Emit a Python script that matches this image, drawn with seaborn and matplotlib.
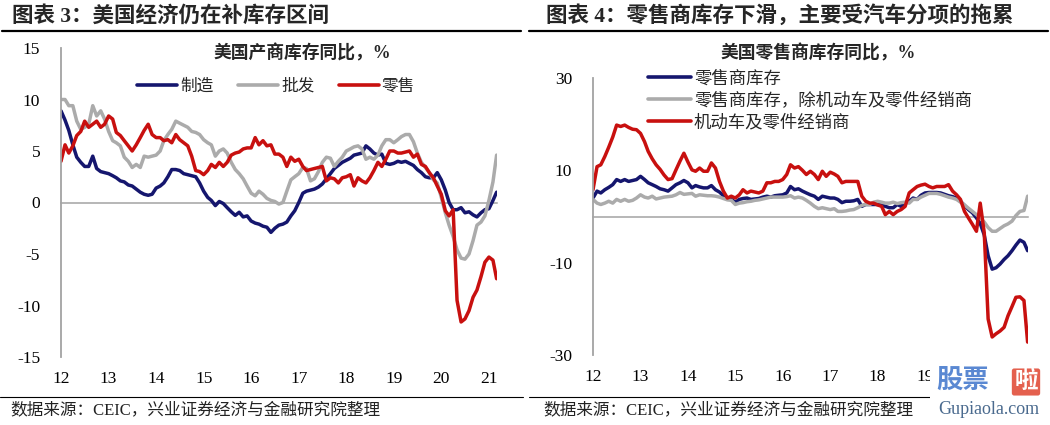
import numpy as np
import pandas as pd
import matplotlib
matplotlib.use("Agg")
import matplotlib.pyplot as plt
from matplotlib.lines import Line2D
from matplotlib.patches import Rectangle
import seaborn as sns

# ---------------- data ----------------
start_month = "2012-01-01"
year_labels = ["12", "13", "14", "15", "16", "17", "18", "19", "20", "21"]

# Left panel: US inventories YoY, %
mfg = [8.9, 8.0, 7.0, 5.6, 4.4, 3.9, 3.5, 3.5, 4.5, 3.3, 3.0, 2.9,
       2.8, 2.6, 2.4, 2.1, 2.0, 1.7, 1.6, 1.3, 1.0, 0.8, 0.7, 0.8,
       1.4, 1.6, 1.9, 2.5, 3.2, 3.2, 3.1, 2.8, 2.7, 2.6, 2.5, 1.9,
       1.1, 0.5, 0.2, -0.3, 0.1, -0.1, -0.5, -0.9, -1.25, -0.95, -1.4, -1.3,
       -1.8, -2.0, -2.1, -2.3, -2.4, -2.9, -2.5, -2.2, -2.1, -1.9, -1.3, -0.8,
       0.0, 0.9, 1.1, 1.2, 1.3, 1.5, 1.8, 2.3, 2.8, 3.3, 3.6, 3.9,
       4.1, 4.3, 4.6, 4.7, 4.8, 5.5, 5.2, 4.8, 4.6, 4.7, 3.8, 3.7,
       3.8, 4.0, 3.9, 4.0, 3.8, 3.6, 3.2, 2.9, 2.5, 2.4, 2.4, 2.9,
       2.2, 1.2, 0.0, -0.7, -0.7, -0.5, -1.0, -0.9, -1.2, -1.4, -1.0, -0.7,
       -0.6, 0.2, 1.0]
wholesale = [10.0, 10.0, 9.4, 9.4, 7.9, 7.1, 7.3, 7.6, 9.4, 8.4, 8.9, 8.1,
             6.9, 6.0, 5.8, 5.5, 4.4, 4.0, 3.4, 3.7, 3.4, 4.5, 4.4, 4.5,
             4.6, 5.0, 6.0, 6.6, 7.1, 7.9, 7.7, 7.5, 7.3, 6.9, 6.8, 6.6,
             6.1, 5.8, 5.6, 4.5, 5.0, 5.2, 4.8, 3.9, 3.2, 2.8, 2.3, 1.6,
             0.9, 0.65, 1.1, 0.8, 0.4, 0.2, 0.1, -0.15, 0.0, 1.1, 2.2, 2.5,
             2.8, 3.4, 3.3, 2.1, 2.3, 3.0, 3.9, 4.4, 4.3, 3.5, 4.0, 4.4,
             5.0, 5.2, 5.4, 5.5, 5.2, 4.2, 4.4, 4.2, 4.6, 5.5, 6.1, 6.1,
             5.8, 6.1, 6.4, 6.6, 6.6, 5.9, 4.8, 3.9, 3.4, 2.9, 2.2, 1.9,
             0.5, -1.0, -2.2, -3.3, -4.6, -5.4, -5.5, -5.0, -3.7, -2.2, -1.9, -1.3,
             0.2, 2.0, 4.6]
retail = [4.0, 5.6, 4.8, 5.5, 6.5, 6.9, 7.9, 7.3, 7.6, 7.9, 7.3, 7.6,
          8.4, 8.1, 6.8, 6.5, 6.0, 5.5, 5.0, 5.6, 6.3, 7.0, 7.6, 6.6,
          6.3, 6.3, 6.0, 6.1, 5.8, 6.6, 6.1, 5.8, 5.5, 4.5, 3.1, 3.0,
          2.7, 3.1, 3.7, 3.4, 3.9, 3.5, 3.9, 4.6, 4.8, 4.9, 5.2, 5.3,
          5.3, 6.3, 5.6, 6.0, 5.5, 5.6, 4.7, 4.7, 4.4, 3.5, 4.4, 4.0,
          4.2, 3.5, 3.1, 3.2, 3.3, 3.4, 3.5, 2.1, 2.4, 2.3, 1.9, 2.4,
          2.5, 2.7, 1.6, 2.4, 2.1, 1.9, 2.4, 3.1, 3.9, 3.5, 4.2, 5.0,
          5.0, 4.8, 4.8, 4.9, 5.0, 4.4, 4.7, 3.7, 3.5, 2.9, 2.4, 1.6,
          0.8, -0.8, -1.3, -0.7, -9.5, -11.6, -11.3, -10.5, -9.2, -8.5, -7.2, -5.8,
          -5.3, -5.6, -7.4]

# Right panel: US retail inventories YoY, %
retail_total = [4.0, 5.5, 5.1, 5.8, 6.3, 6.9, 8.0, 7.6, 8.0, 7.6, 7.8, 8.0,
                8.7, 8.0, 7.3, 6.9, 6.5, 6.0, 5.8, 5.5, 6.2, 6.9, 7.3, 7.8,
                7.3, 6.2, 6.7, 6.4, 6.2, 6.2, 6.7, 5.8, 5.3, 4.5, 4.0, 3.7,
                3.1, 3.7, 3.9, 4.0, 3.7, 3.8, 3.9, 4.2, 4.4, 4.2, 4.5, 4.6,
                4.7, 5.1, 6.5, 5.8, 6.0, 5.5, 5.1, 4.7, 4.4, 3.7, 4.4, 4.2,
                4.0, 4.0, 3.7, 3.0, 3.3, 3.3, 3.4, 3.7, 2.2, 2.6, 2.6, 2.6,
                2.6, 2.6, 2.2, 1.9, 1.9, 2.6, 2.2, 2.9, 3.3, 4.0, 3.7, 4.6,
                5.1, 5.2, 5.2, 5.2, 5.1, 4.8, 4.5, 4.3, 4.0, 3.3, 2.4, 1.5,
                0.8, -0.3, -1.5, -4.0, -8.5, -11.4, -11.1, -10.3, -9.3, -8.5, -7.4, -6.2,
                -5.1, -5.6, -7.4]
retail_ex_auto = [3.7, 2.9, 2.6, 2.9, 3.3, 2.9, 3.7, 3.3, 3.7, 3.3, 3.5, 4.0,
                  4.7, 4.2, 4.0, 4.4, 3.8, 4.0, 4.2, 4.3, 4.4, 4.7, 5.2, 4.8,
                  4.9, 5.0, 4.4, 4.7, 4.6, 4.5, 4.5, 4.4, 4.2, 3.9, 3.6, 3.5,
                  2.6, 2.9, 3.0, 3.2, 3.3, 3.5, 3.6, 3.8, 4.0, 4.2, 4.2, 4.2,
                  4.2, 4.3, 4.5, 4.0, 4.2, 4.0, 3.5, 2.9, 2.2, 1.7, 1.9, 1.7,
                  1.5, 1.7, 1.1, 1.1, 1.2, 1.4, 1.5, 1.9, 2.4, 2.6, 2.6, 3.1,
                  3.3, 3.1, 2.9, 2.9, 3.1, 2.8, 3.0, 3.1, 2.9, 3.7, 3.7, 4.2,
                  4.6, 5.0, 5.0, 5.0, 4.8, 4.5, 4.2, 4.0, 3.7, 3.1, 2.5, 1.8,
                  1.1, 0.4, -0.3, -1.2, -2.4, -3.2, -3.2, -2.6, -2.0, -1.6, -1.0, 0.2,
                  1.1, 1.3, 4.4]
auto_dealers = [5.8, 10.8, 11.2, 13.0, 15.0, 17.2, 19.8, 19.5, 19.8, 19.3, 18.9, 18.8,
                18.0, 16.2, 14.1, 12.5, 11.2, 10.2, 9.0, 8.0, 8.2, 10.1, 12.0, 13.7,
                11.8, 10.1, 9.8, 10.5, 9.8, 9.8, 11.6, 10.5, 7.6, 5.5, 4.0, 4.4,
                4.0, 4.7, 5.8, 5.1, 5.5, 5.3, 5.1, 5.5, 7.3, 7.3, 7.6, 7.6,
                8.0, 9.1, 11.2, 10.5, 10.8, 10.0, 9.1, 9.8, 9.1, 8.0, 9.8, 8.7,
                9.6, 9.2, 8.7, 7.3, 7.6, 7.6, 7.6, 7.6, 4.4, 3.3, 2.9, 2.9,
                2.5, 2.2, 0.4, 1.1, 0.4, 1.1, 1.5, 2.2, 5.1, 5.8, 6.5, 6.8,
                7.0, 6.5, 6.2, 6.5, 6.5, 6.5, 6.9, 5.5, 4.7, 3.7, 1.1, -0.3,
                -1.7, -3.2, 2.9, -3.5, -22.2, -26.1, -25.4, -24.8, -24.0, -21.5, -19.5, -17.5,
                -17.4, -18.2, -27.2]

left_names = ["制造", "批发", "零售"]
right_names = ["零售商库存", "零售商库存，除机动车及零件经销商", "机动车及零件经销商"]

# ---------------- style ----------------
NAVY = "#15166E"
GRAY = "#ABABAB"
RED = "#C8100F"
AXC = "#A3A3A3"
colors = [NAVY, GRAY, RED]

sns.set_theme(style="white")
plt.rcParams["font.family"] = ["Liberation Serif", "Noto Sans CJK SC", "DejaVu Sans"]
plt.rcParams["axes.unicode_minus"] = False

W, H = 1050, 425
fig = plt.figure(figsize=(W / 100, H / 100), dpi=100)
fig.patch.set_facecolor("white")


def fx(px):
    return px / W


def fy(py):
    return 1 - py / H


def long_df(series_list, names):
    frames = []
    for vals, nm in zip(series_list, names):
        d = pd.date_range(start_month, periods=len(vals), freq="MS")
        frames.append(pd.DataFrame({"date": d, "value": vals, "series": nm}))
    return pd.concat(frames, ignore_index=True)


year_dates = pd.date_range(start_month, periods=len(year_labels), freq="YS")
x_end = pd.Timestamp("2021-03-04")


def draw_panel(ax, df, names, ylim, yticks, n_labels):
    sns.lineplot(data=df, x="date", y="value", hue="series", hue_order=names,
                 palette=dict(zip(names, colors)), linewidth=2.5, ax=ax,
                 legend=False, estimator=None, sort=False)
    ax.set_xlim(pd.Timestamp(start_month), x_end)
    ax.set_ylim(*ylim)
    ax.set_yticks(yticks)
    ax.set_yticklabels([str(t) for t in yticks])
    ax.set_xlabel("")
    ax.set_ylabel("")
    for s in ["top", "right"]:
        ax.spines[s].set_visible(False)
    ax.spines["left"].set_color(AXC)
    ax.spines["left"].set_linewidth(1.3)
    ax.spines["bottom"].set_position(("data", 0))
    ax.spines["bottom"].set_color(AXC)
    ax.spines["bottom"].set_linewidth(1.1)
    ax.spines["bottom"].set_zorder(0.5)
    ax.set_xticks(year_dates)
    ax.set_xticklabels([])
    ax.tick_params(axis="x", direction="in", length=4, width=1, color=AXC)
    ax.tick_params(axis="y", direction="in", length=4, width=1, color=AXC,
                   pad=15, labelsize=12.5, labelcolor="black")
    ax.grid(False)
    # year labels (the right panel's last ones are hidden under the logo in the reference)
    for d, lab in list(zip(year_dates, year_labels))[:n_labels]:
        ax.annotate(lab, xy=(d, 0), xycoords=("data", "axes fraction"),
                    xytext=(0, -10), textcoords="offset points",
                    ha="center", va="top", fontsize=12.5, color="black")


# Left panel
axL = fig.add_axes([fx(61), fy(357), fx(497) - fx(61), fy(48) - fy(357)])
draw_panel(axL, long_df([mfg, wholesale, retail], left_names), left_names,
           (-15, 15), [-15, -10, -5, 0, 5, 10, 15], len(year_labels))
hL = [Line2D([], [], color=c, lw=2.6) for c in colors]
fig.legend(hL, left_names, loc="center left", bbox_to_anchor=(fx(137), fy(87)),
           ncol=3, frameon=False, fontsize=12, handlelength=2.4,
           handletextpad=0.2, columnspacing=1.45, borderpad=0, borderaxespad=0)

# Right panel
axR = fig.add_axes([fx(593), fy(355), fx(1028) - fx(593), fy(78) - fy(355)])
draw_panel(axR, long_df([retail_total, retail_ex_auto, auto_dealers], right_names),
           right_names, (-30, 30), [-30, -10, 10, 30], 8)
hR = [Line2D([], [], color=c, lw=2.6) for c in colors]
fig.legend(hR, right_names, loc="upper left", bbox_to_anchor=(fx(648), fy(71)),
           ncol=1, frameon=False, fontsize=12.5, handlelength=2.5,
           handletextpad=0.15, labelspacing=0.3, borderpad=0, borderaxespad=0)

# Titles
fig.text(fx(12), fy(16), "图表 3：美国经济仍在补库存区间", fontsize=15.5,
         fontweight="bold", ha="left", va="center")
fig.text(fx(546), fy(16), "图表 4：零售商库存下滑，主要受汽车分项的拖累", fontsize=15.5,
         fontweight="bold", ha="left", va="center")
fig.add_artist(Line2D([fx(2), fx(521)], [fy(31), fy(31)], color="black", lw=1.6,
                      transform=fig.transFigure))
fig.add_artist(Line2D([fx(529), fx(1048)], [fy(31), fy(31)], color="black", lw=1.6,
                      transform=fig.transFigure))

# Chart subtitles
fig.text(fx(302), fy(53), "美国产商库存同比，%", fontsize=12.8, fontweight="bold",
         ha="center", va="center")
fig.text(fx(818), fy(53), "美国零售商库存同比，%", fontsize=12.8, fontweight="bold",
         ha="center", va="center")

# Source lines
fig.add_artist(Line2D([fx(0), fx(523)], [fy(397), fy(397)], color="black", lw=0.8,
                      transform=fig.transFigure))
fig.add_artist(Line2D([fx(529), fx(1048)], [fy(397), fy(397)], color="black", lw=0.8,
                      transform=fig.transFigure))
fig.text(fx(10), fy(410), "数据来源：CEIC，兴业证券经济与金融研究院整理", fontsize=12,
         ha="left", va="center", color="#222222")
fig.text(fx(543), fy(410), "数据来源：CEIC，兴业证券经济与金融研究院整理", fontsize=12,
         ha="left", va="center", color="#222222")

# Watermark
fig.add_artist(Rectangle((fx(930), 0), fx(1050) - fx(930), fy(364), transform=fig.transFigure,
                         facecolor="white", edgecolor="none", zorder=5))
fig.text(fx(963), fy(382), "股票", fontsize=19, fontweight="bold", color="#5A88D2",
         ha="center", va="center", zorder=6)
fig.text(fx(1026), fy(382), "啦", fontsize=17, fontweight="bold", color="white",
         ha="center", va="center", zorder=6,
         bbox=dict(boxstyle="round,pad=0.1", fc="#E4604E", ec="none"))
fig.text(fx(989), fy(409), "Gupiaola.com", fontsize=13, color="#4A6A8E",
         ha="center", va="center", zorder=6)

fig.savefig("out.png", dpi=100, facecolor="white")
